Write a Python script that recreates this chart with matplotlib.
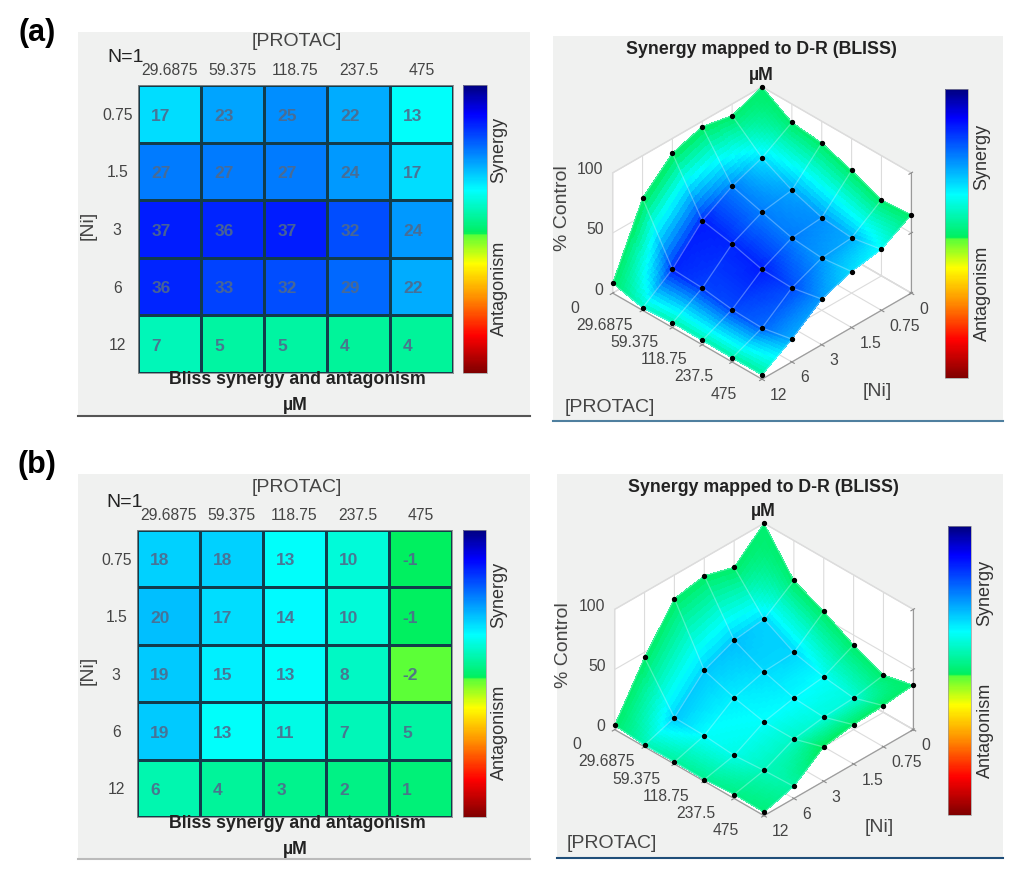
import numpy as np
import matplotlib
matplotlib.use('Agg')
import matplotlib.pyplot as plt
from matplotlib.colors import LinearSegmentedColormap, Normalize
from matplotlib.cm import ScalarMappable
from matplotlib.lines import Line2D
from matplotlib.patches import Rectangle
from mpl_toolkits.mplot3d import proj3d

W, H = 1022, 873
GRAY = '#f0f1f0'
TXT = '#454545'

plt.rcParams['font.family'] = ['Liberation Sans', 'DejaVu Sans']
plt.rcParams['grid.color'] = '#dcdcdc'

protac_labels = ['29.6875', '59.375', '118.75', '237.5', '475']
ni_labels = ['0.75', '1.5', '3', '6', '12']
z_ticks = [0, 50, 100]

# bliss score per cell, rows = Ni, columns = PROTAC
bliss_a = [[17, 23, 25, 22, 13],
           [27, 27, 27, 24, 17],
           [37, 36, 37, 32, 24],
           [36, 33, 32, 29, 22],
           [7, 5, 5, 4, 4]]
bliss_b = [[18, 18, 13, 10, -1],
           [20, 17, 14, 10, -1],
           [19, 15, 13, 8, -2],
           [19, 13, 11, 7, 5],
           [6, 4, 3, 2, 1]]

control_a = [[100, 84.7, 81.9, 73.4, 63.3, 65.2],
             [90.4, 69.6, 57, 48.5, 46, 50.7],
             [95.6, 60.3, 53, 46, 43.6, 46.6],
             [87.7, 46, 41, 34, 33, 38],
             [64.7, 20, 18.6, 15, 14, 19],
             [8.2, 2, 3.8, 3.6, 3.3, 3.6]]
control_b = [[100, 66.8, 55.4, 41.8, 31, 37],
             [77.8, 49, 35.5, 29.6, 26.3, 34.3],
             [85, 45.7, 34, 26.3, 24.7, 32.7],
             [80.3, 35, 26.6, 20.8, 20.8, 28.5],
             [45.7, 10, 9.4, 7.2, 9, 10],
             [3.6, 1.4, 1.7, 1.4, 3.3, 2.8]]

# reversed jet with the jump at zero like the toolbox colorbar
cmap = LinearSegmentedColormap.from_list('bliss', [
    (0.0, (0.5, 0, 0)), (0.13, (1, 0, 0)), (0.26, (1, 0.55, 0)),
    (0.38, (1, 1, 0)), (0.48, (0.35, 1, 0.22)), (0.487, (0, 0.94, 0.36)),
    (0.5, (0, 0.94, 0.43)), (0.635, (0, 1, 1)), (0.9, (0, 0, 1)),
    (1.0, (0, 0, 0.5))])
norm = Normalize(-50, 50)


def rect(x0, y0, x1, y1):
    # pixel box (y down) to figure fractions
    return [x0 / W, 1 - y1 / H, (x1 - x0) / W, (y1 - y0) / H]


def label(x, y, s, size=14, weight='normal', color=TXT, rotation=0, ha='center'):
    fig.text(x / W, 1 - y / H, s, fontsize=size, fontweight=weight, color=color,
             rotation=rotation, ha=ha, va='center')


def panel(x0, y0, x1, y1, line_color, lw=1.5):
    fig.add_artist(Rectangle((x0 / W, 1 - y1 / H), (x1 - x0) / W, (y1 - y0) / H,
                             transform=fig.transFigure, color=GRAY, lw=0, zorder=-1))
    fig.add_artist(Line2D([x0 / W, x1 / W], [1 - y1 / H, 1 - y1 / H],
                          color=line_color, lw=lw, zorder=-1))


def colorbar(x0, y0, x1, y1):
    cax = fig.add_axes(rect(x0, y0, x1, y1))
    cb = fig.colorbar(ScalarMappable(norm=norm, cmap=cmap), cax=cax)
    cb.set_ticks([])
    cb.outline.set_edgecolor('#999999')
    cb.outline.set_linewidth(0.5)


def heatmap(box, values):
    ax = fig.add_axes(rect(*box))
    values = np.array(values)
    ax.pcolormesh(values, cmap=cmap, norm=norm, edgecolors='#123c4c', linewidth=0.75)
    ax.invert_yaxis()
    ax.xaxis.tick_top()
    ax.set_xticks(np.arange(5) + 0.5, protac_labels)
    ax.set_yticks(np.arange(5) + 0.5, ni_labels, ha='center')
    ax.tick_params(length=0, labelsize=11.3, labelcolor=TXT)
    ax.tick_params(axis='x', pad=5)
    ax.tick_params(axis='y', pad=15)
    for s in ax.spines.values():
        s.set_color('#8a8a8a')
        s.set_linewidth(0.6)
    for r in range(5):
        for c in range(5):
            ax.text(c + 0.21, r + 0.54, str(values[r, c]), fontsize=12.5, fontweight='bold',
                    color='#4f6a8c', alpha=0.9, ha='left', va='center')


def fine(arr, n=12):
    # linear subdivision between the nodes, same as shading interp
    nodes = np.arange(6)
    f = np.linspace(0, 5, 5 * n + 1)
    rows = np.array([np.interp(f, nodes, r) for r in arr])
    return np.array([np.interp(f, nodes, c) for c in rows.T]).T


def tick_text(ax, x, y, z, s, dx, dy, ha='center'):
    # tick label placed in pixels from where the tick lands on screen
    x2, y2, _ = proj3d.proj_transform(x, y, z, ax.get_proj())
    ax.annotate(s, (x2, y2), xytext=(dx * 0.72, -dy * 0.72), textcoords='offset points',
                fontsize=11.3, color=TXT, ha=ha, va='center', annotation_clip=False)


def surface(cx, cy, control, bliss):
    size = 400
    left = cx - 0.5135 * size
    bottom = cy + 0.5135 * size
    ax = fig.add_axes(rect(left, bottom - size, left + size, bottom), projection='3d',
                      proj_type='ortho', computed_zorder=False)
    ax.set_facecolor('none')
    ax.view_init(elev=35.2, azim=-45)
    ax.set_box_aspect((211, 211, 147), zoom=0.808)
    ax.set_xlim(0, 5, view_margin=0)
    ax.set_ylim(5, 0, view_margin=0)
    ax.set_zlim(0, 100, view_margin=0)

    control = np.array(control, dtype=float)
    syn = np.zeros((6, 6))
    syn[1:, 1:] = bliss
    X, Y = np.meshgrid(np.arange(6), np.arange(6))
    fx, fy, fz, fs = fine(X), fine(Y), fine(control), fine(syn)
    ax.plot_surface(fx, fy, fz, rstride=1, cstride=1, facecolors=cmap(norm(fs)),
                    shade=False, linewidth=0, antialiased=False, zorder=2)
    ax.plot_wireframe(X, Y, control, color='#d8f4ff', linewidth=0.9, alpha=0.35, zorder=3)
    ax.plot(X.ravel(), Y.ravel(), control.ravel(), 'o', color='black', ms=2.8, zorder=4)

    ax.set_xticks(range(6), [''] * 6)
    ax.set_yticks(range(6), [''] * 6)
    ax.set_zticks(z_ticks, [''] * 3)
    ax.tick_params(color='#8a8a8a')
    ax.zaxis.set_ticks_position('lower')
    for axis in (ax.xaxis, ax.yaxis, ax.zaxis):
        axis.set_pane_color('white')
        axis.pane.set_edgecolor('#dddddd')
        axis.line.set_color('#9a9a9a')

    for i, s in enumerate(['0'] + protac_labels):
        tick_text(ax, i, 5, 0, s, -38, 15)
    for j, s in enumerate(['0'] + ni_labels):
        tick_text(ax, 5, j, 0, s, 8, 16, ha='left')
    for z in z_ticks:
        tick_text(ax, 0, 5, z, str(z), -9, -3, ha='right')
    return ax


fig = plt.figure(figsize=(W / 100, H / 100), dpi=100)

label(37, 33, '(a)', size=22, weight='bold', color='black')
label(37, 465, '(b)', size=22, weight='bold', color='black')

# panel (a) left
panel(78, 32, 530, 416, '#555555')
heatmap((138, 85, 453, 373), bliss_a)
colorbar(463, 85, 487, 373)
label(297, 42, '[PROTAC]')
label(107, 58, 'N=1', color='#222222', ha='left')
label(88, 225, '[Ni]', rotation=90)
label(297, 380, 'Bliss synergy and antagonism', size=12.8, weight='bold', color='#222222')
label(295, 406, 'µM', size=12.8, weight='bold', color='#222222')
label(499, 150, 'Synergy', rotation=90, size=13, color='#333333')
label(499, 288, 'Antagonism', rotation=90, size=13, color='#333333')

# panel (a) right
panel(553, 36, 1003, 421, '#4f7f9f')
surface(762, 233, control_a, bliss_a)
colorbar(945, 89, 968, 378)
label(761, 50, 'Synergy mapped to D-R (BLISS)', size=12.8, weight='bold', color='#222222')
label(761, 75, 'µM', size=12.8, weight='bold', color='#222222')
label(562, 208, '% Control', rotation=90)
label(877, 392, '[Ni]')
label(610, 408, '[PROTAC]')
label(982, 157, 'Synergy', rotation=90, size=13, color='#333333')
label(982, 293, 'Antagonism', rotation=90, size=13, color='#333333')

# panel (b) left
panel(78, 474, 530, 859, '#bbbbbb')
heatmap((137, 530, 452, 817), bliss_b)
colorbar(463, 530, 486, 817)
label(297, 488, '[PROTAC]')
label(106, 503, 'N=1', color='#222222', ha='left')
label(88, 670, '[Ni]', rotation=90)
label(297, 824, 'Bliss synergy and antagonism', size=12.8, weight='bold', color='#222222')
label(295, 849, 'µM', size=12.8, weight='bold', color='#222222')
label(499, 595, 'Synergy', rotation=90, size=13, color='#333333')
label(499, 732, 'Antagonism', rotation=90, size=13, color='#333333')

# panel (b) right
panel(557, 474, 1003, 858, '#1f4e79')
surface(764, 669.5, control_b, bliss_b)
colorbar(948, 526, 971, 815)
label(763, 487, 'Synergy mapped to D-R (BLISS)', size=12.8, weight='bold', color='#222222')
label(763, 512, 'µM', size=12.8, weight='bold', color='#222222')
label(563, 645, '% Control', rotation=90)
label(879, 828, '[Ni]')
label(612, 844, '[PROTAC]')
label(985, 593, 'Synergy', rotation=90, size=13, color='#333333')
label(985, 730, 'Antagonism', rotation=90, size=13, color='#333333')

fig.savefig('out.png', dpi=100, facecolor='white')
